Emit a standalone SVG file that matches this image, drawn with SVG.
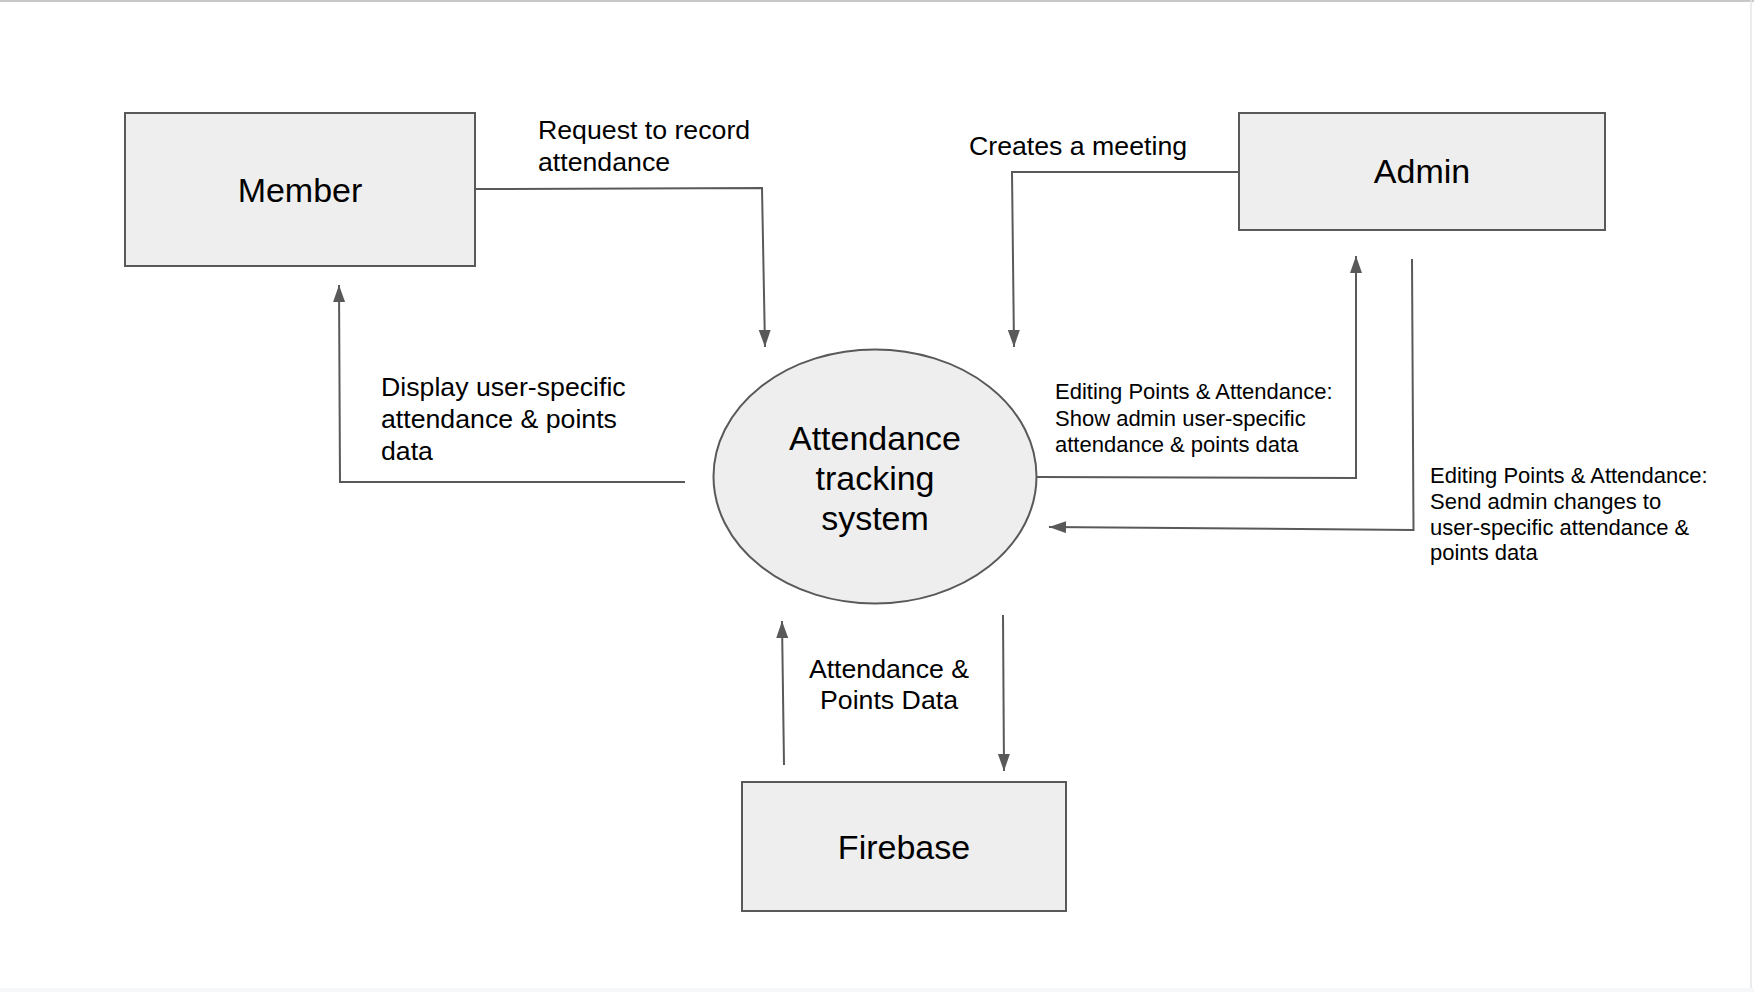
<svg xmlns="http://www.w3.org/2000/svg" width="1754" height="992" viewBox="0 0 1754 992">
<style>
.box{fill:#eeeeee;stroke:#595959;stroke-width:2}
.conn{fill:none;stroke:#595959;stroke-width:2}
text{font-family:"Liberation Sans",Arial,sans-serif;fill:#000}
.big{font-size:34px;text-anchor:middle}
.lbl{font-size:26.7px}
.sm{font-size:22px}
</style>
<defs>
<marker id="arr" markerUnits="userSpaceOnUse" markerWidth="18" markerHeight="13" refX="17" refY="6" orient="auto">
<path d="M0,0 L17,6 L0,12 z" fill="#595959"/>
</marker>
</defs>
<rect width="1754" height="992" fill="#ffffff"/>
<line x1="0" y1="1" x2="1754" y2="1" stroke="#c8c8c8" stroke-width="2"/>
<line x1="1751" y1="0" x2="1751" y2="988" stroke="#e6e6e6" stroke-width="1.5"/>
<rect x="0" y="988" width="1754" height="4" fill="#f6f7f8"/>

<g id="connectors">
<polyline class="conn" points="475,189 762,188 765,347" marker-end="url(#arr)"/>
<polyline class="conn" points="685,482 340,482 339,285" marker-end="url(#arr)"/>
<polyline class="conn" points="1239,172 1012,172 1014,347" marker-end="url(#arr)"/>
<polyline class="conn" points="1037,477 1356,478 1356,256" marker-end="url(#arr)"/>
<polyline class="conn" points="1412,259 1413.5,530 1049,527" marker-end="url(#arr)"/>
<polyline class="conn" points="784,765 782,621" marker-end="url(#arr)"/>
<polyline class="conn" points="1003,615 1004,771" marker-end="url(#arr)"/>
</g>

<g id="member">
<rect class="box" x="125" y="113" width="350" height="153"/>
<text class="big" x="300" y="202">Member</text>
</g>

<g id="admin">
<rect class="box" x="1239" y="113" width="366" height="117"/>
<text class="big" x="1422" y="183">Admin</text>
</g>

<g id="system">
<ellipse class="box" cx="875" cy="476.5" rx="161.5" ry="127"/>
<text class="big" x="875" y="449.5">Attendance</text>
<text class="big" x="875" y="489.5">tracking</text>
<text class="big" x="875" y="529.5">system</text>
</g>

<g id="firebase">
<rect class="box" x="742" y="782" width="324" height="129"/>
<text class="big" x="904" y="859">Firebase</text>
</g>

<g id="labels">
<text class="lbl" x="538" y="139">Request to record</text>
<text class="lbl" x="538" y="171">attendance</text>
<text class="lbl" x="381" y="396">Display user-specific</text>
<text class="lbl" x="381" y="428">attendance &amp; points</text>
<text class="lbl" x="381" y="460">data</text>
<text class="lbl" x="969" y="155">Creates a meeting</text>
<text class="sm" x="1055" y="399">Editing Points &amp; Attendance:</text>
<text class="sm" x="1055" y="426">Show admin user-specific</text>
<text class="sm" x="1055" y="452">attendance &amp; points data</text>
<text class="sm" x="1430" y="483">Editing Points &amp; Attendance:</text>
<text class="sm" x="1430" y="509">Send admin changes to</text>
<text class="sm" x="1430" y="535">user-specific attendance &amp;</text>
<text class="sm" x="1430" y="560">points data</text>
<text class="lbl" x="889" y="678" text-anchor="middle">Attendance &amp;</text>
<text class="lbl" x="889" y="709" text-anchor="middle">Points Data</text>
</g>
</svg>
